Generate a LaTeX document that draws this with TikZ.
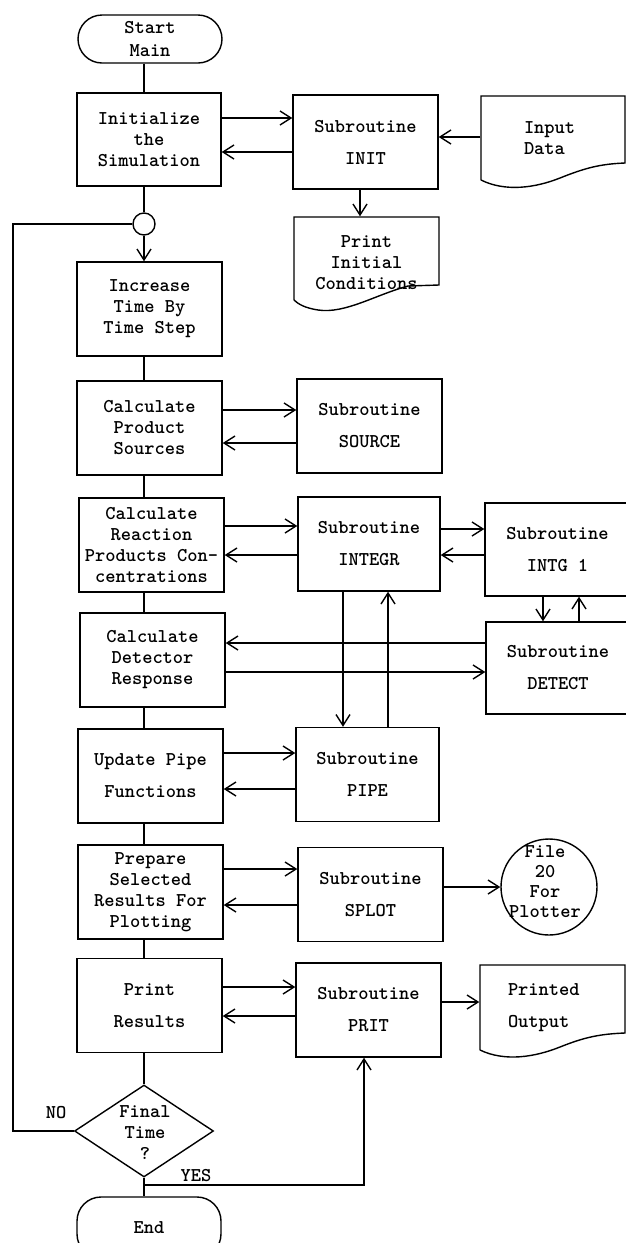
\documentclass[tikz,border=0pt]{standalone}
\usetikzlibrary{arrows.meta,shapes.geometric}
\newcommand{\tfs}{\fontsize{19.5}{21}\selectfont\ttfamily\bfseries}
\newcommand{\tfw}{\fontsize{19.5}{32}\selectfont\ttfamily\bfseries}
\newcommand{\tff}{\fontsize{19.5}{20}\selectfont\ttfamily\bfseries}
\begin{document}
\begin{tikzpicture}[x=1pt,y=-1pt,line width=1.4pt,
  box/.style={draw,rectangle,inner sep=0pt,minimum width=145pt,minimum height=94pt,align=center,font=\tfs},
  sub/.style={box,font=\tfw},
  term/.style={draw,rounded corners=24pt,minimum width=144pt,minimum height=48pt,inner sep=0pt,align=center,font=\tfs},
  txt/.style={inner sep=0pt,font=\tfs,align=center},
  arr/.style={-{Straight Barb[length=11pt,width=14pt]}}]
\useasboundingbox[fill=white] (0,0) rectangle (626,1243);

% main column
\node[term] (start) at (150,39) {Start\\[2pt]Main};
\node[box,minimum width=144pt,minimum height=93pt] (init) at (149,139.5) {Initialize\\the\\Simulation};
\node[draw,circle,minimum size=22pt,inner sep=0pt] (conn) at (144,224) {};
\node[box] (inc) at (149.5,309) {Increase\\Time By\\Time Step};
\node[box] (cp) at (149.5,428) {Calculate\\Product\\Sources};
\node[box] (cr) at (151.5,545) {Calculate\\Reaction\\Products Con-\\centrations};
\node[box] (cd) at (152.5,660) {Calculate\\Detector\\Response};
\node[box,font=\tfw] (up) at (150.5,776) {Update Pipe\\Functions};
\node[box] (prep) at (150.5,892) {Prepare\\Selected\\Results For\\Plotting};
\node[box,font=\tfw] (pr) at (149.5,1005.5) {Print\\Results};
\node[draw,diamond,minimum width=139pt,minimum height=92pt,inner sep=0pt] (dia) at (144,1131) {};
\node[txt] (diatxt) at (145,1133) {Final\\Time\\?};
\node[term,minimum height=61pt] (end) at (149,1227.5) {End};

% subroutines
\node[sub] (INIT) at (365.5,142) {Subroutine\\INIT};
\node[sub] (SOURCE) at (369.5,426) {Subroutine\\SOURCE};
\node[sub,minimum width=142pt] (INTEGR) at (369,544) {Subroutine\\INTEGR};
\node[sub,minimum height=93pt] (INTG) at (557.5,549.5) {Subroutine\\INTG 1};
\node[sub,minimum width=144pt,minimum height=92pt] (DETECT) at (558,668) {Subroutine\\DETECT};
\node[sub,minimum width=143pt] (PIPE) at (367.5,774.5) {Subroutine\\PIPE};
\node[sub] (SPLOT) at (370.5,894.5) {Subroutine\\SPLOT};
\node[sub] (PRIT) at (368.5,1010) {Subroutine\\PRIT};

% documents and file
\draw (481,180) -- (481,96) -- (625,96) -- (625,163) .. controls (600,164) and (585,168) .. (560,178) .. controls (535,188) and (505,192) .. (481,180);
\node[font=\tfs,align=left,text width=58pt,inner xsep=43pt,inner ysep=0pt,minimum height=84pt] (indata) at (553,138) {Input\\Data};
\draw (294,300) -- (294,217) -- (439,217) -- (439,285) -- (408,286) .. controls (375,295) and (345,314) .. (318,310) .. controls (305,308) and (298,304) .. (294,300);
\node[txt,minimum width=145pt,minimum height=92pt] (pic) at (366.5,263) {Print\\Initial\\Conditions};
\draw (480,1050) -- (480,965) -- (625,965) -- (625,1033) .. controls (600,1034) and (585,1037) .. (560,1047) .. controls (535,1057) and (505,1062) .. (480,1050);
\node[font=\tfw,align=left,text width=89pt,inner xsep=28pt,inner ysep=0pt,minimum height=85pt] (out) at (552.5,1007.5) {Printed\\Output};
\node[draw,circle,minimum size=96pt,inner sep=0pt] (file) at (549,887) {};
\node[inner sep=0pt,font=\tff,align=center] (filetxt) at (545,882) {File\\20\\For\\Plotter};

% labels
\node[txt] (no) at (56,1113) {NO};
\node[txt] (yes) at (196,1176) {YES};

% helper coordinates
\coordinate (sp) at (144,0);
\coordinate (a1) at (0,118); \coordinate (a2) at (0,152); \coordinate (a3) at (0,137);
\coordinate (b1) at (0,410); \coordinate (b2) at (0,443);
\coordinate (c1) at (0,526); \coordinate (c2) at (0,555); \coordinate (c3) at (0,529); \coordinate (c4) at (0,555);
\coordinate (d1) at (0,643); \coordinate (d2) at (0,672);
\coordinate (e1) at (0,753); \coordinate (e2) at (0,789);
\coordinate (f1) at (0,869); \coordinate (f2) at (0,905);
\coordinate (g1) at (0,987); \coordinate (g2) at (0,1016); \coordinate (g3) at (0,1002);
\coordinate (k1) at (360,0); \coordinate (k2) at (343,0); \coordinate (k3) at (388,0);
\coordinate (k4) at (543,0); \coordinate (k5) at (579,0);
\coordinate (yesc) at (364,1185);
\coordinate (lp1) at (13,1131); \coordinate (lp2) at (13,224);

% spine
\draw (start.south -| sp) -- (init.north -| sp);
\draw (init.south -| sp) -- (conn.north);
\draw[arr] (conn.south) -- (inc.north -| sp);
\draw (inc.south -| sp) -- (cp.north -| sp);
\draw (cp.south -| sp) -- (cr.north -| sp);
\draw (cr.south -| sp) -- (cd.north -| sp);
\draw (cd.south -| sp) -- (up.north -| sp);
\draw (up.south -| sp) -- (prep.north -| sp);
\draw (prep.south -| sp) -- (pr.north -| sp);
\draw (pr.south -| sp) -- (dia.north);
\draw (dia.south) -- (end.north -| sp);
\draw (dia.west) -- (lp1) -- (lp2) -- (conn.west);
\draw[arr] (dia.south |- yesc) -- (yesc) -- (PRIT.south -| yesc);

% calls
\draw[arr] (init.east |- a1) -- (INIT.west |- a1);
\draw[arr] (INIT.west |- a2) -- (init.east |- a2);
\draw[arr] (indata.west |- a3) -- (INIT.east |- a3);
\draw[arr] (INIT.south -| k1) -- (pic.north -| k1);
\draw[arr] (cp.east |- b1) -- (SOURCE.west |- b1);
\draw[arr] (SOURCE.west |- b2) -- (cp.east |- b2);
\draw[arr] (cr.east |- c1) -- (INTEGR.west |- c1);
\draw[arr] (INTEGR.west |- c2) -- (cr.east |- c2);
\draw[arr] (INTEGR.east |- c3) -- (INTG.west |- c3);
\draw[arr] (INTG.west |- c4) -- (INTEGR.east |- c4);
\draw[arr] (INTEGR.south -| k2) -- (PIPE.north -| k2);
\draw[arr] (PIPE.north -| k3) -- (INTEGR.south -| k3);
\draw[arr] (INTG.south -| k4) -- (DETECT.north -| k4);
\draw[arr] (DETECT.north -| k5) -- (INTG.south -| k5);
\draw[arr] (DETECT.west |- d1) -- (cd.east |- d1);
\draw[arr] (cd.east |- d2) -- (DETECT.west |- d2);
\draw[arr] (up.east |- e1) -- (PIPE.west |- e1);
\draw[arr] (PIPE.west |- e2) -- (up.east |- e2);
\draw[arr] (prep.east |- f1) -- (SPLOT.west |- f1);
\draw[arr] (SPLOT.west |- f2) -- (prep.east |- f2);
\draw[arr] (SPLOT.east |- file.west) -- (file.west);
\draw[arr] (pr.east |- g1) -- (PRIT.west |- g1);
\draw[arr] (PRIT.west |- g2) -- (pr.east |- g2);
\draw[arr] (PRIT.east |- g3) -- (out.west |- g3);
\end{tikzpicture}
\end{document}
